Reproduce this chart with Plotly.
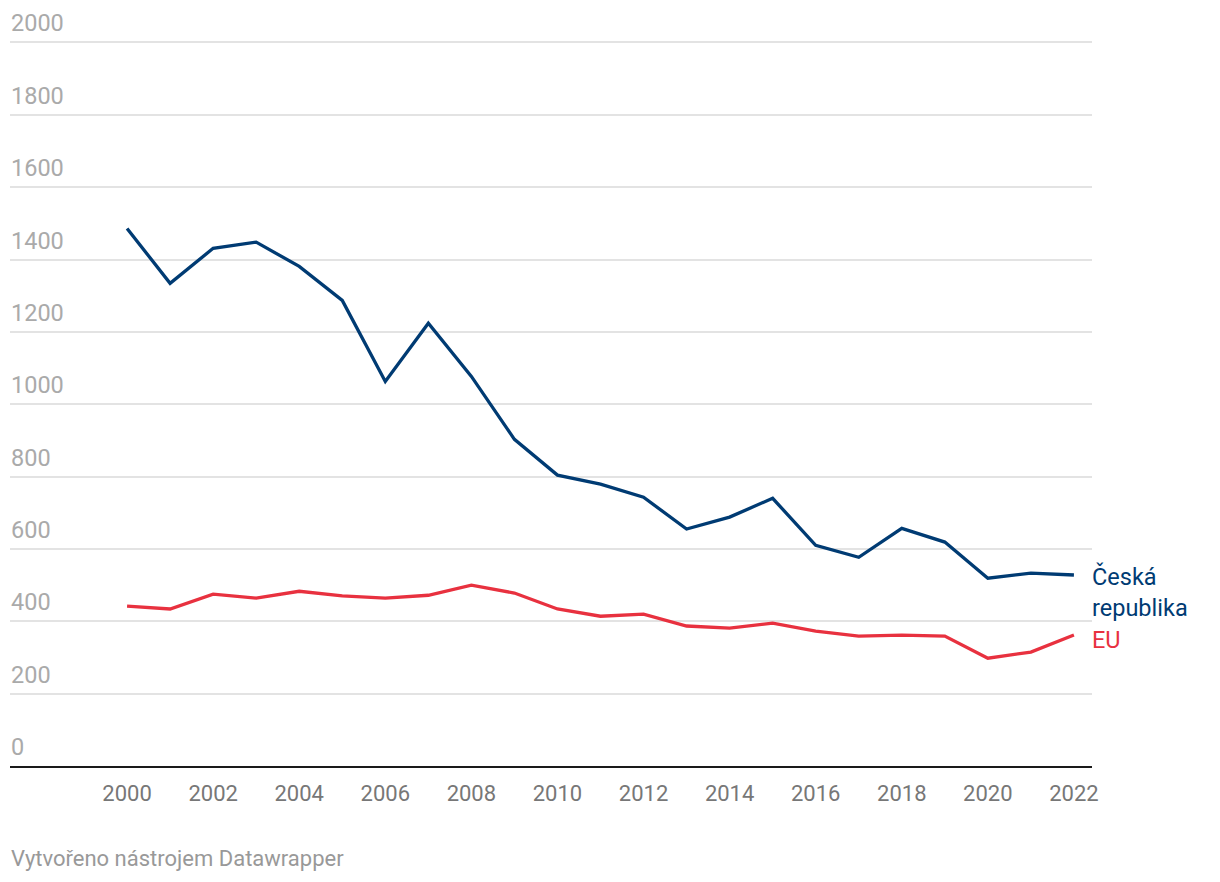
import plotly.graph_objects as go

years = list(range(2000, 2023))
cz = [1486, 1334, 1431, 1448, 1381, 1287, 1063, 1224, 1077, 903, 804, 779, 743,
      655, 688, 740, 610, 577, 657, 619, 519, 533, 528]
eu = [442, 434, 475, 464, 483, 470, 464, 472, 500, 478, 434, 414, 420,
      387, 381, 395, 373, 359, 362, 359, 298, 315, 362]
y_ticks = [0, 200, 400, 600, 800, 1000, 1200, 1400, 1600, 1800, 2000]
x_ticks = list(range(2000, 2023, 2))
series_names = ["Česká<br>republika", "EU"]
colors = ["#003b73", "#e8313f"]
footer = "Vytvořeno nástrojem Datawrapper"

fig = go.Figure()
for name, vals, col in zip(series_names, [cz, eu], colors):
    fig.add_trace(go.Scatter(x=years, y=vals, mode="lines",
                             line=dict(color=col, width=3.3), hoverinfo="skip",
                             showlegend=False))

# y tick labels above gridlines
for v in y_ticks:
    fig.add_annotation(x=0, y=v, xref="paper", yref="y", xanchor="left", yanchor="middle",
                       yshift=19, xshift=-1, showarrow=False, text=str(v),
                       font=dict(family="Roboto", size=23.5, color="#aaaaaa"))

fig.add_annotation(x=years[-1], y=cz[-1], text=series_names[0], xref="x", yref="y",
                   xanchor="left", yanchor="top", xshift=16, yshift=15, showarrow=False,
                   align="left", font=dict(family="Roboto", size=23.5, color=colors[0]))
fig.add_annotation(x=years[-1], y=eu[-1], text=series_names[1], xref="x", yref="y",
                   xanchor="left", yanchor="middle", xshift=16, yshift=-5, showarrow=False,
                   align="left", font=dict(family="Roboto", size=23.5, color=colors[1]))
fig.add_annotation(x=0, y=0, xref="paper", yref="paper", xanchor="left", yanchor="middle",
                   yshift=-92, xshift=-1, showarrow=False, text=footer,
                   font=dict(family="Roboto", size=22, color="#999999"))

fig.update_layout(
    width=1220, height=882,
    margin=dict(l=2, r=136, t=32.5, b=124),
    paper_bgcolor="white", plot_bgcolor="white",
    font=dict(family="Roboto"),
    xaxis=dict(range=[1997.28, 2022.42], tickvals=x_ticks, ticks="",
               showgrid=False, zeroline=False, showline=True, linecolor="#1a1a1a",
               linewidth=2, tickfont=dict(size=22, color="#777777"),
               ticklabelstandoff=7),
    yaxis=dict(range=[0, 2004], tickvals=y_ticks, ticks="", showgrid=True,
               gridcolor="#e3e3e3", gridwidth=1.5, zeroline=False,
               showticklabels=False),
)

fig.write_html("out.html")
